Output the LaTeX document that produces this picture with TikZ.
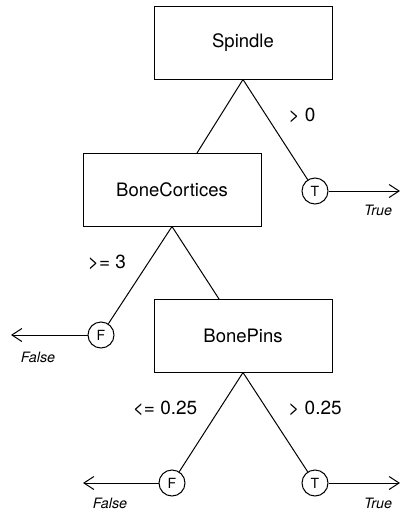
\documentclass[tikz,border=0pt]{standalone}
\usepackage{fontspec}
\setmainfont{TeX Gyre Heros}
\usetikzlibrary{arrows.meta}
\begin{document}
\begin{tikzpicture}[x=1pt,y=-1pt,
  line width=1pt,
  attrbox/.style={draw, minimum width=178pt, minimum height=73pt, inner sep=0pt, font=\fontsize{18.5}{20}\selectfont},
  leaf/.style={draw, circle, minimum size=26pt, inner sep=0pt, font=\fontsize{14}{16}\selectfont},
  cond/.style={font=\fontsize{19}{21}\selectfont},
  outcome/.style={font=\fontsize{14.3}{16}\selectfont\itshape},
  exit/.style={-{Straight Barb[length=10pt,width=13pt]}}]
  \useasboundingbox (0,0) rectangle (401,517);

  % decision nodes
  \node[attrbox] (spindle) at (243,42.5) {Spindle};
  \node[attrbox] (cort) at (172,189.5) {BoneCortices};
  \node[attrbox] (pins) at (243,335.5) {BonePins};

  % leaves
  \node[leaf] (t1) at (315,191) {T};
  \node[leaf] (f1) at (101,335) {F};
  \node[leaf] (f2) at (172,483) {F};
  \node[leaf] (t2) at (315,483) {T};

  % where branches meet the top edge of a child box
  \coordinate (cortin) at (197,153);
  \coordinate (pinsin) at (219,299);

  % branches
  \draw (spindle.south) -- (cortin);
  \draw (spindle.south) -- (t1);
  \draw (cort.south) -- (f1);
  \draw (cort.south) -- (pinsin);
  \draw (pins.south) -- (f2);
  \draw (pins.south) -- (t2);

  % outcome arrows
  \coordinate (t1out) at (400,191);
  \coordinate (f1out) at (11,335);
  \coordinate (f2out) at (83,483);
  \coordinate (t2out) at (400,483);
  \draw[exit] (t1) -- (t1out);
  \draw[exit] (f1) -- (f1out);
  \draw[exit] (f2) -- (f2out);
  \draw[exit] (t2) -- (t2out);

  % branch conditions
  \node[cond] (c1) at (302,115) {> 0};
  \node[cond] (c2) at (107,262) {>= 3};
  \node[cond] (c3) at (165,408) {<= 0.25};
  \node[cond] (c4) at (315,408) {> 0.25};

  % outcome labels
  \node[outcome] (o1) at (378,210) {True};
  \node[outcome] (o2) at (38,357) {False};
  \node[outcome] (o3) at (110,503) {False};
  \node[outcome] (o4) at (378,503) {True};
\end{tikzpicture}
\end{document}
